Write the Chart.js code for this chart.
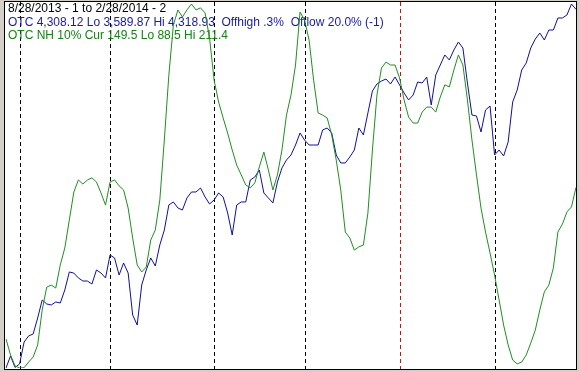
<!DOCTYPE html>
<html>
<head>
<meta charset="utf-8">
<script src="https://cdn.jsdelivr.net/npm/chart.js@4"></script>
<style>
  html, body { margin: 0; padding: 0; background: #d4d0c8; }
  #wrap { width: 579px; height: 372px; }
</style>
</head>
<body>
<div id="wrap"><canvas id="chart" width="579" height="372"></canvas></div>
<script>
// daily closes, 8/28/2013 .. 2/28/2014 (trading days)
const otc = [
  3589.87, 3613.9, 3591.0, 3597.9, 3641.9, 3654.0, 3658.0, 3690.0, 3726.1, 3718.1,
  3716.1, 3722.1, 3720.1, 3746.1, 3782.2, 3780.0, 3770.2, 3764.1, 3764.0, 3758.1,
  3786.2, 3780.1, 3770.2, 3816.2, 3810.2, 3776.1, 3800.2, 3780.1, 3696.0, 3676.0,
  3756.1, 3786.2, 3810.2, 3794.2, 3836.2, 3866.3, 3916.4, 3922.4, 3910.4, 3906.3,
  3930.4, 3942.4, 3942.4, 3950.4, 3932.4, 3918.4, 3926.4, 3940.4, 3932.4, 3900.3,
  3856.3, 3916.4, 3922.4, 3922.4, 3966.4, 3972.4, 3986.4, 3940.4, 3930.4, 3920.4,
  3962.4, 3990.5, 4006.5, 4016.5, 4036.5, 4060.6, 4046.5, 4036.5, 4036.5, 4036.5,
  4066.6, 4070.6, 4060.6, 4016.5, 4000.5, 4000.5, 4012.5, 4026.5, 4070.6, 4056.6,
  4100.6, 4144.7, 4158.7, 4164.7, 4168.7, 4158.7, 4172.7, 4156.7, 4140.7, 4126.7,
  4136.7, 4162.7, 4160.7, 4172.7, 4116.7, 4176.7, 4196.8, 4216.8, 4206.8, 4226.8,
  4242.8, 4230.8, 4160.7, 4096.6, 4094.6, 4062.6, 4106.6, 4114.6, 4016.5, 4026.5,
  4014.5, 4042.5, 4122.6, 4146.7, 4186.7, 4200.8, 4230.8, 4248.8, 4260.8, 4246.8,
  4266.8, 4266.8, 4290.9, 4290.9, 4296.9, 4318.93, 4308.12
];
const nh10 = [
  98.3, 92.9, 89.2, 88.5, 88.6, 90.5, 92.2, 96.3, 108.1, 115.8,
  116.5, 115.5, 123.3, 129.0, 138.5, 147.9, 152.0, 150.6, 152.0, 152.7,
  151.3, 147.6, 143.5, 151.3, 152.0, 150.0, 148.6, 142.5, 132.4, 123.3,
  120.9, 122.6, 131.7, 135.1, 145.2, 165.5, 187.4, 204.3, 209.4, 207.0,
  209.4, 211.4, 209.4, 210.1, 208.4, 199.9, 185.7, 178.3, 172.9, 167.8,
  162.1, 157.0, 153.7, 150.3, 149.3, 151.0, 156.4, 161.4, 155.4, 148.6,
  153.7, 162.1, 173.9, 180.7, 190.8, 208.7, 206.0, 199.2, 185.7, 174.6,
  173.9, 172.9, 167.2, 158.7, 148.6, 134.4, 132.4, 128.3, 129.4, 130.0,
  140.8, 162.1, 180.7, 189.8, 191.8, 190.8, 190.8, 186.4, 179.0, 173.2,
  171.2, 171.2, 174.9, 176.6, 176.6, 174.9, 180.0, 184.1, 183.4, 189.1,
  194.2, 190.8, 179.0, 165.5, 153.7, 142.5, 134.4, 127.3, 119.9, 111.5,
  103.0, 96.3, 91.2, 89.9, 90.5, 92.9, 96.9, 101.3, 108.1, 114.2,
  116.5, 122.3, 134.4, 137.1, 141.2, 142.9, 149.5
];
// first trading day of each month (index), red = new year
const monthStarts = [3, 23, 46, 66, 87, 108];
const yearStart = 87;
const headerLines = [
  { text: "8/28/2013 - 1 to 2/28/2014 - 2", color: "#000000" },
  { text: "OTC 4,308.12 Lo 3,589.87 Hi 4,318.93  Offhigh .3%  Offlow 20.0% (-1)", color: "#1a1aa6" },
  { text: "OTC NH 10% Cur 149.5 Lo 88.5 Hi 211.4", color: "#148314" }
];
const otcLo = 3589.87, otcHi = 4318.93;
const nhLo = 88.5, nhHi = 211.4;

const labels = otc.map((v, i) => i);

const framePlugin = {
  id: "frame",
  beforeDraw(chart) {
    const ctx = chart.ctx;
    ctx.save();
    ctx.fillStyle = "#d4d0c8";
    ctx.fillRect(0, 0, chart.width, chart.height);
    ctx.fillStyle = "#ffffff";
    ctx.fillRect(5, 2, 572, 367);
    ctx.strokeStyle = "#000000";
    ctx.lineWidth = 1;
    ctx.strokeRect(4.5, 1.5, 572, 368);
    ctx.restore();
  },
  beforeDatasetsDraw(chart) {
    const ctx = chart.ctx;
    const x = chart.scales.x;
    ctx.save();
    ctx.lineWidth = 1;
    ctx.setLineDash([4, 3]);
    monthStarts.forEach((m) => {
      const px = Math.round(x.getPixelForValue(m)) + 0.5;
      ctx.strokeStyle = m === yearStart ? "#c01818" : "#000000";
      ctx.beginPath();
      ctx.moveTo(px, 2);
      ctx.lineTo(px, 369);
      ctx.stroke();
    });
    ctx.setLineDash([]);
    ctx.font = "12px 'Liberation Sans', Arial, sans-serif";
    ctx.textBaseline = "alphabetic";
    headerLines.forEach((l, i) => {
      ctx.fillStyle = l.color;
      ctx.fillText(l.text, 8, 12 + i * 13.5);
    });
    ctx.restore();
  }
};

new Chart(document.getElementById("chart"), {
  type: "line",
  data: {
    labels: labels,
    datasets: [
      {
        label: "OTC NH 10%",
        data: nh10,
        yAxisID: "yNH",
        borderColor: "#1f8f1f",
        borderWidth: 1,
        pointRadius: 0,
        tension: 0
      },
      {
        label: "OTC",
        data: otc,
        yAxisID: "yOTC",
        borderColor: "#10109c",
        borderWidth: 1,
        pointRadius: 0,
        tension: 0
      }
    ]
  },
  options: {
    responsive: false,
    animation: false,
    layout: { padding: { left: 6, right: 3, top: 4, bottom: 4 } },
    plugins: { legend: { display: false }, tooltip: { enabled: false } },
    scales: {
      x: { type: "category", offset: false, display: false },
      yOTC: { min: otcLo, max: otcHi, display: false },
      yNH: { min: nhLo, max: nhHi, display: false }
    }
  },
  plugins: [framePlugin]
});
</script>
</body>
</html>
